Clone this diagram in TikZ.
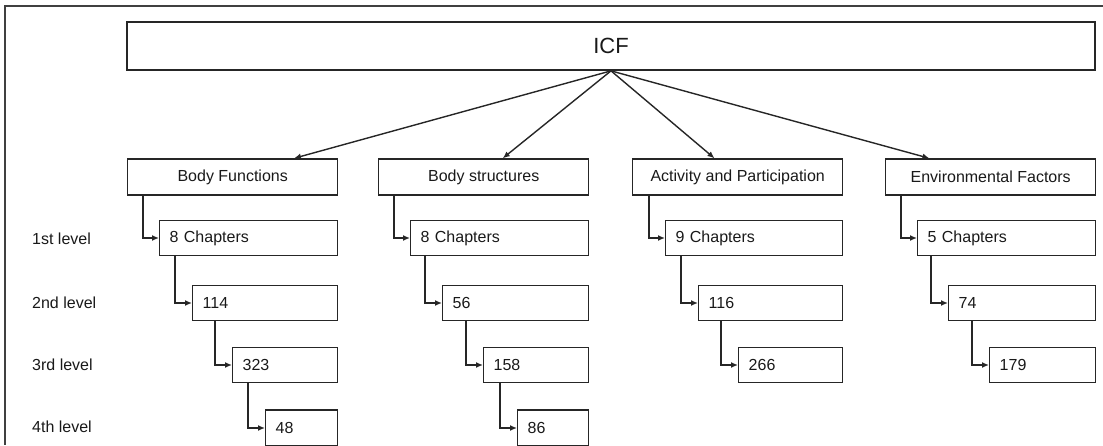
\documentclass[tikz,border=0pt]{standalone}
\usepackage{fontspec}
\setmainfont{Liberation Sans}
\usetikzlibrary{arrows.meta,calc}

\begin{document}
\begin{tikzpicture}[>={Latex[length=7pt,width=6pt]},x=1pt,y=-1pt,
  box/.style={draw=black!85,line width=1.4pt,anchor=west,minimum height=35pt,inner xsep=10pt,inner ysep=0pt,align=left,font=\fontsize{16}{19}\selectfont,text=black!90},
  head/.style={box,align=center,minimum width=210pt,minimum height=36pt},
  lvl/.style={anchor=west,inner sep=0pt,font=\fontsize{16}{19}\selectfont,text=black!90},
  link/.style={->,line width=1.4pt,draw=black!85}]
\useasboundingbox (0,0) rectangle (1103,445);
\clip (0,0) rectangle (1103,445);
\draw[line width=1.5pt,black!75] (1103,6) -- (5,6) -- (5,445);

\node[draw=black!85,line width=1.7pt,minimum width=968pt,minimum height=48pt,font=\fontsize{22}{26}\selectfont,text=black!90] (icf) at (611,46) {ICF};

\node[head] (bf) at (127,177) {Body Functions};
\node[head] (bs) at (378,177) {Body structures};
\node[head] (ap) at (632,177) {Activity and Participation};
\node[head] (ef) at (885,177) {Environmental Factors};

\node[lvl] (lv1) at (32,239) {1st level};
\node[lvl] (lv2) at (32,303) {2nd level};
\node[lvl] (lv3) at (32,365) {3rd level};
\node[lvl] (lv4) at (32,427) {4th level};

\node[box,text width=158pt] (bf1) at (159,238) {8 Chapters};
\node[box,text width=125pt] (bf2) at (192,303) {114};
\node[box,text width=85pt] (bf3) at (232,365) {323};
\node[box,text width=52pt,minimum height=36pt] (bf4) at (265,428) {48};

\node[box,text width=158pt] (bs1) at (410,238) {8 Chapters};
\node[box,text width=126pt] (bs2) at (442,303) {56};
\node[box,text width=85pt] (bs3) at (483,365) {158};
\node[box,text width=51pt,minimum height=36pt] (bs4) at (517,428) {86};

\node[box,text width=157pt] (ap1) at (665,238) {9 Chapters};
\node[box,text width=124pt] (ap2) at (698,303) {116};
\node[box,text width=84pt] (ap3) at (738,365) {266};

\node[box,text width=158pt] (ef1) at (917,238) {5 Chapters};
\node[box,text width=127pt] (ef2) at (948,303) {74};
\node[box,text width=86pt] (ef3) at (989,365) {179};

\draw[link] (icf.south) -- ($(bf.north west)!0.79!(bf.north east)$);
\draw[link] (icf.south) -- ($(bs.north west)!0.59!(bs.north east)$);
\draw[link] (icf.south) -- ($(ap.north west)!0.39!(ap.north east)$);
\draw[link] (icf.south) -- ($(ef.north west)!0.21!(ef.north east)$);

\draw[link] ($(bf.south -| bf1.west)+(-16pt,0)$) |- (bf1.west);
\draw[link] ($(bf1.south -| bf2.west)+(-17pt,0)$) |- (bf2.west);
\draw[link] ($(bf2.south -| bf3.west)+(-17pt,0)$) |- (bf3.west);
\draw[link] ($(bf3.south -| bf4.west)+(-17pt,0)$) |- (bf4.west);

\draw[link] ($(bs.south -| bs1.west)+(-16pt,0)$) |- (bs1.west);
\draw[link] ($(bs1.south -| bs2.west)+(-17pt,0)$) |- (bs2.west);
\draw[link] ($(bs2.south -| bs3.west)+(-17pt,0)$) |- (bs3.west);
\draw[link] ($(bs3.south -| bs4.west)+(-17pt,0)$) |- (bs4.west);

\draw[link] ($(ap.south -| ap1.west)+(-16pt,0)$) |- (ap1.west);
\draw[link] ($(ap1.south -| ap2.west)+(-17pt,0)$) |- (ap2.west);
\draw[link] ($(ap2.south -| ap3.west)+(-17pt,0)$) |- (ap3.west);

\draw[link] ($(ef.south -| ef1.west)+(-16pt,0)$) |- (ef1.west);
\draw[link] ($(ef1.south -| ef2.west)+(-17pt,0)$) |- (ef2.west);
\draw[link] ($(ef2.south -| ef3.west)+(-17pt,0)$) |- (ef3.west);
\end{tikzpicture}
\end{document}
